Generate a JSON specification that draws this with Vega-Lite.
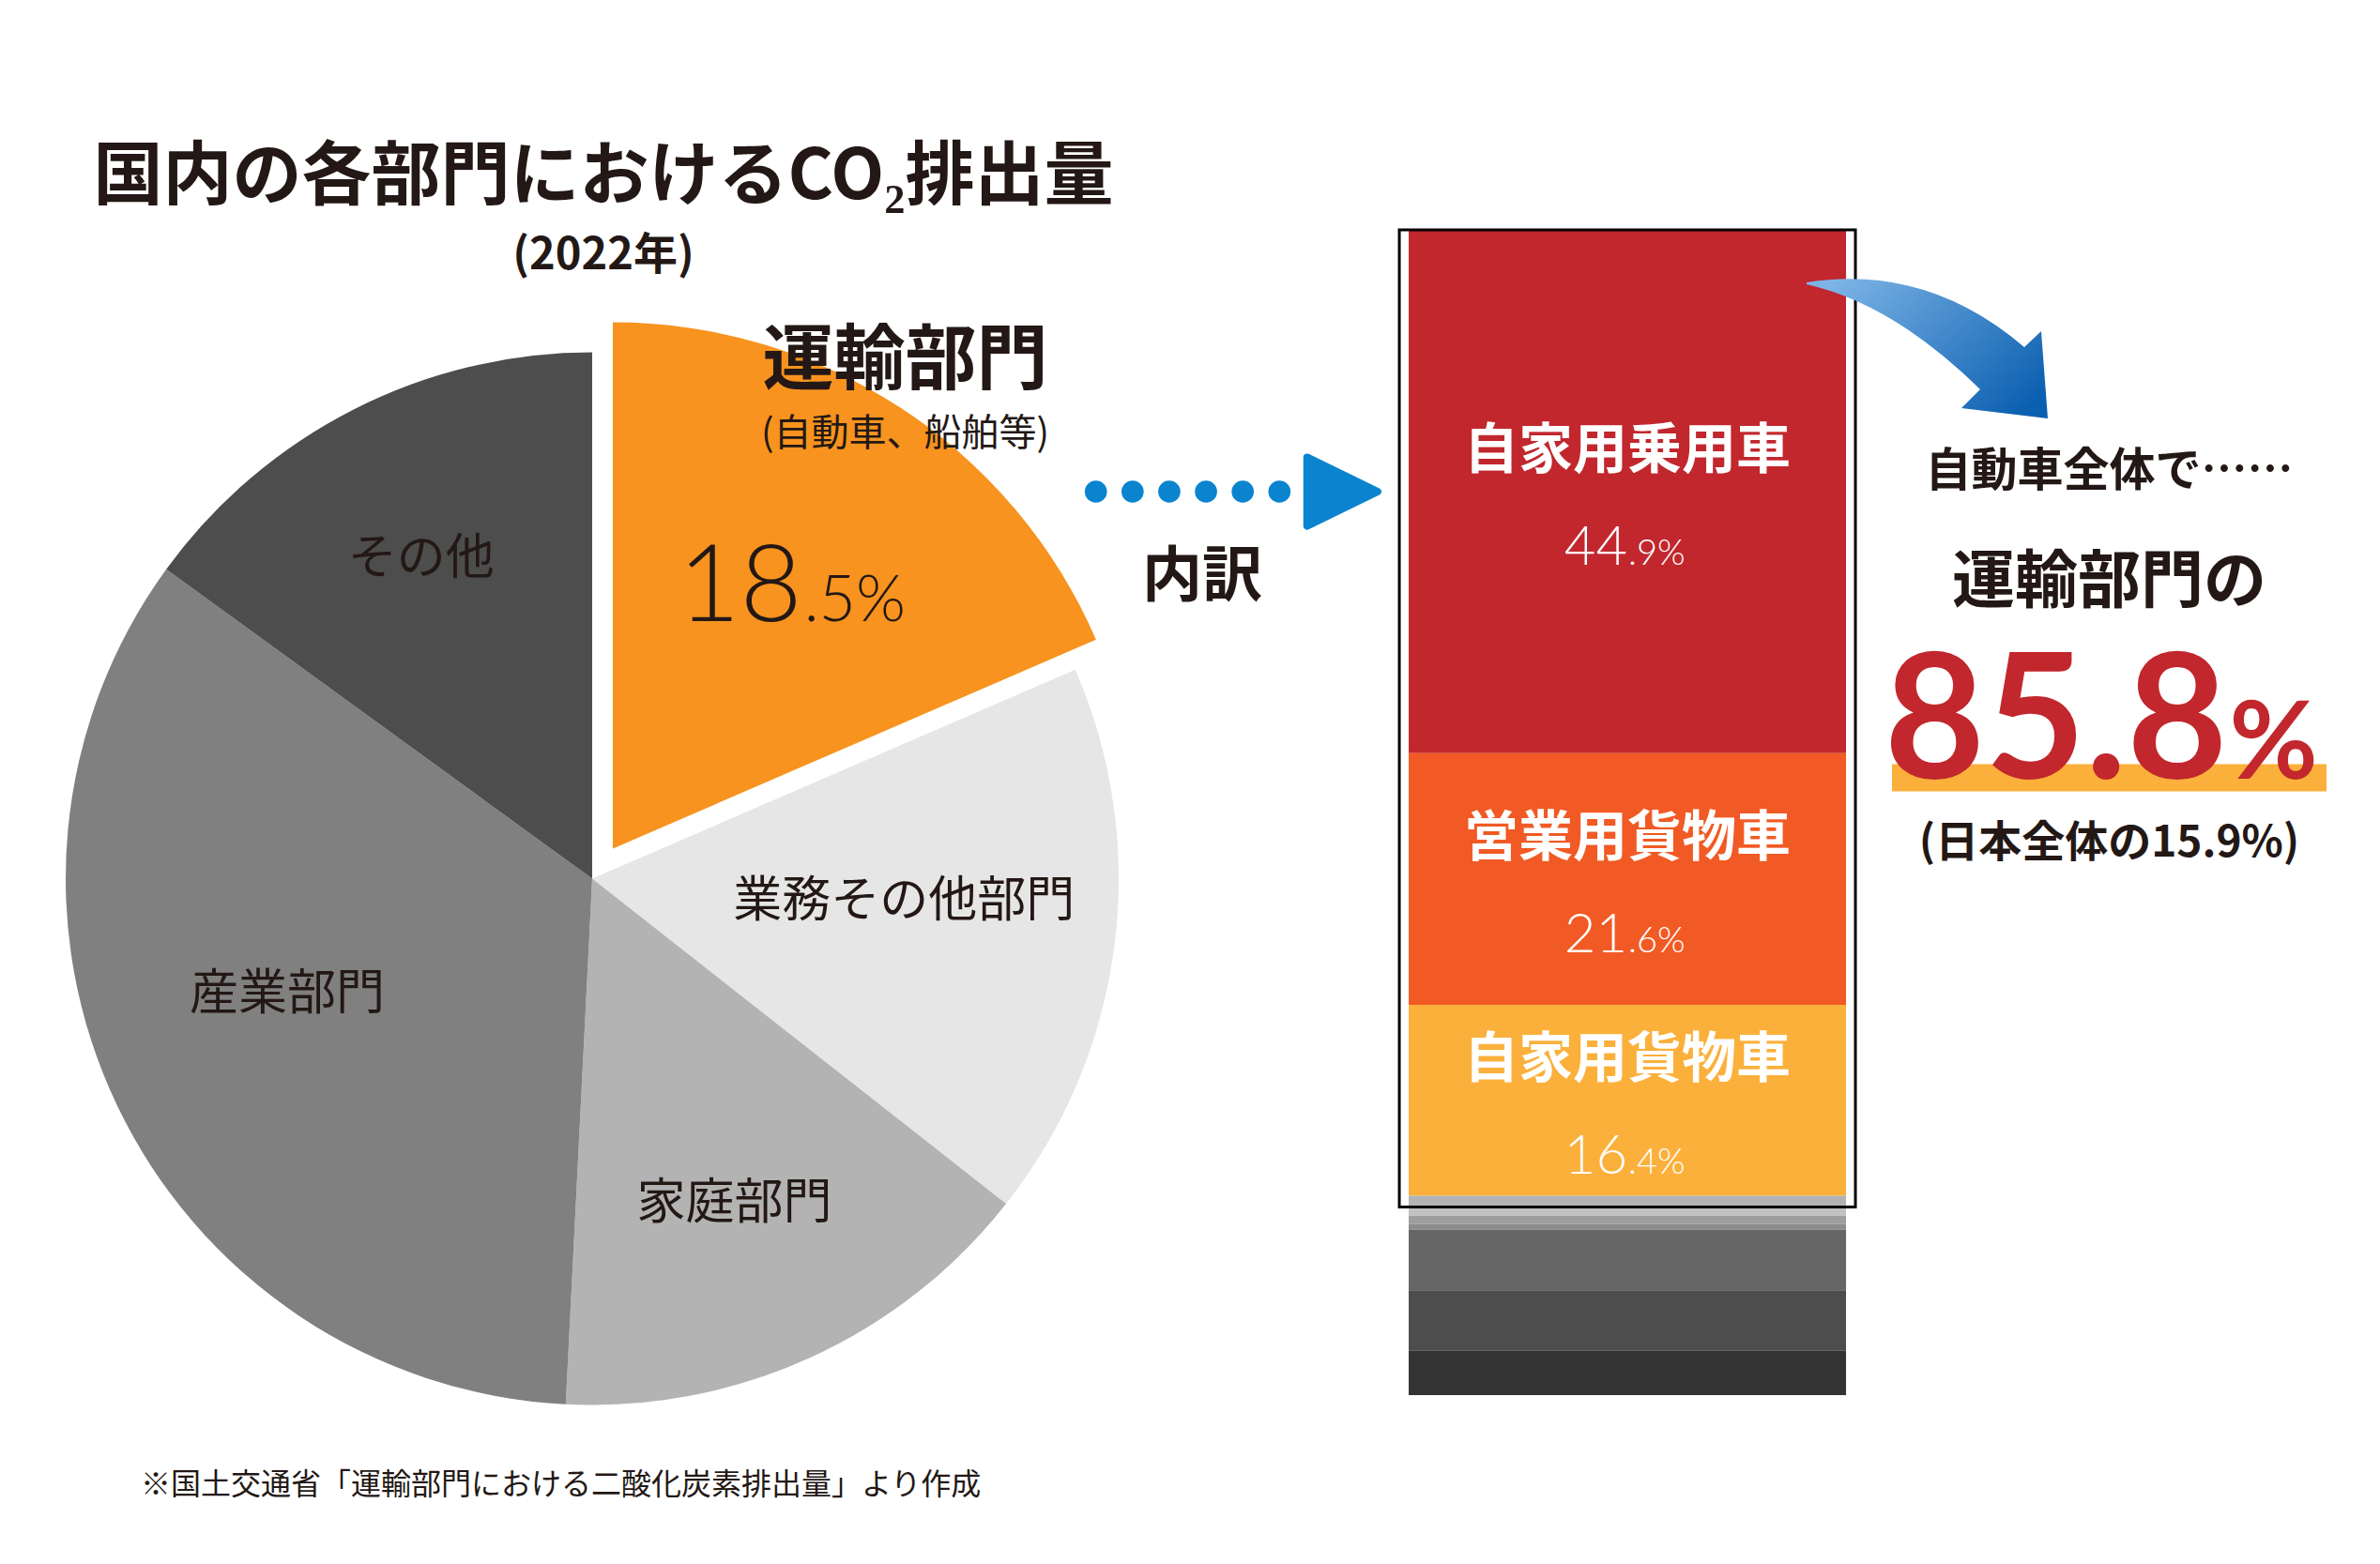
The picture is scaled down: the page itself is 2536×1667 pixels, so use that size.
{
  "$schema": "https://vega.github.io/schema/vega-lite/v6.json",
  "background": "#ffffff",
  "padding": {"left": 70, "top": 152, "right": 40, "bottom": 37},
  "config": {"view": {"stroke": null}, "font": "Noto Sans CJK JP"},
  "title": {
    "text": "国内の各部門におけるCO₂排出量",
    "subtitle": "(2022年)",
    "anchor": "start",
    "frame": "group",
    "align": "center",
    "dx": 452,
    "offset": -53,
    "font": "Noto Sans CJK JP",
    "fontSize": 74,
    "fontWeight": "bold",
    "color": "#231815",
    "subtitleFont": "Noto Sans CJK JP",
    "subtitleFontSize": 47,
    "subtitleFontWeight": "bold",
    "subtitleColor": "#231815",
    "subtitlePadding": 22
  },
  "bounds": "flush",
  "spacing": 0,
  "resolve": {"scale": {"color": "independent"}},
  "hconcat": [
    {
      "width": 880,
      "height": 1383,
      "title": {
        "text": "※国土交通省「運輸部門における二酸化炭素排出量」より作成",
        "orient": "bottom",
        "anchor": "start",
        "frame": "group",
        "dx": -41,
        "offset": -60,
        "font": "Noto Sans CJK JP",
        "fontSize": 32,
        "fontWeight": "normal",
        "color": "#231815"
      },
      "data": {"values": [
        {"sector": "運輸部門", "share": 18.5, "rank": 1, "note": "(自動車、船舶等)", "whole": "18", "frac": ".5%"},
        {"sector": "業務その他部門", "share": 17.1, "rank": 2},
        {"sector": "家庭部門", "share": 15.2, "rank": 3},
        {"sector": "産業部門", "share": 34.2, "rank": 4},
        {"sector": "その他", "share": 15.0, "rank": 5}
      ]},
      "encoding": {
        "theta": {"field": "share", "type": "quantitative", "stack": true},
        "order": {"field": "rank", "type": "quantitative"}
      },
      "layer": [
        {
          "mark": {"type": "arc", "outerRadius": 561},
          "encoding": {
            "color": {"field": "sector", "type": "nominal", "legend": null,
              "scale": {"domain": ["運輸部門", "業務その他部門", "家庭部門", "産業部門", "その他"],
                        "range": ["#F7931E", "#E6E6E6", "#B3B3B3", "#808080", "#4D4D4D"]}},
            "opacity": {"condition": {"test": "datum.sector === '運輸部門'", "value": 0}, "value": 1}
          }
        },
        {
          "mark": {"type": "arc", "outerRadius": 561, "xOffset": 22, "yOffset": -32},
          "encoding": {
            "color": {"field": "sector", "type": "nominal", "legend": null},
            "opacity": {"condition": {"test": "datum.sector === '運輸部門'", "value": 1}, "value": 0}
          }
        },
        {
          "mark": {"type": "text", "radius": 388, "fontSize": 52, "dx": -6, "dy": 5, "color": "#231815"},
          "encoding": {
            "detail": {"field": "sector", "type": "nominal"},
            "text": {"condition": {"test": "datum.sector === 'その他'", "field": "sector", "type": "nominal"}, "value": ""}
          }
        },
        {
          "mark": {"type": "text", "radius": 347, "fontSize": 52, "dx": -12, "dy": -26, "color": "#231815"},
          "encoding": {
            "detail": {"field": "sector", "type": "nominal"},
            "text": {"condition": {"test": "datum.sector === '産業部門'", "field": "sector", "type": "nominal"}, "value": ""}
          }
        },
        {
          "mark": {"type": "text", "radius": 375, "fontSize": 52, "dx": -4, "dy": 5, "color": "#231815"},
          "encoding": {
            "detail": {"field": "sector", "type": "nominal"},
            "text": {"condition": {"test": "datum.sector === '家庭部門'", "field": "sector", "type": "nominal"}, "value": ""}
          }
        },
        {
          "mark": {"type": "text", "radius": 333, "fontSize": 52, "dx": 2, "dy": -18, "color": "#231815"},
          "encoding": {
            "detail": {"field": "sector", "type": "nominal"},
            "text": {"condition": {"test": "datum.sector === '業務その他部門'", "field": "sector", "type": "nominal"}, "value": ""}
          }
        },
        {
          "mark": {"type": "text", "radius": 600, "fontSize": 76, "fontWeight": "bold", "dx": 4, "dy": -49, "color": "#231815"},
          "encoding": {
            "detail": {"field": "sector", "type": "nominal"},
            "text": {"condition": {"test": "datum.sector === '運輸部門'", "field": "sector", "type": "nominal"}, "value": ""}
          }
        },
        {
          "mark": {"type": "text", "radius": 600, "fontSize": 40, "dx": 4, "dy": 28, "color": "#231815"},
          "encoding": {
            "detail": {"field": "sector", "type": "nominal"},
            "text": {"condition": {"test": "datum.sector === '運輸部門'", "field": "note", "type": "nominal"}, "value": ""}
          }
        },
        {
          "mark": {"type": "text", "radius": 300, "font": "Lato", "fontWeight": 300, "fontSize": 114, "align": "right", "baseline": "alphabetic", "dx": 59, "dy": -24, "color": "#231815"},
          "encoding": {
            "detail": {"field": "sector", "type": "nominal"},
            "text": {"condition": {"test": "datum.sector === '運輸部門'", "field": "whole", "type": "nominal"}, "value": ""}
          }
        },
        {
          "mark": {"type": "text", "radius": 300, "font": "Lato", "fontWeight": 300, "fontSize": 68, "align": "left", "baseline": "alphabetic", "dx": 61, "dy": -24, "color": "#231815"},
          "encoding": {
            "detail": {"field": "sector", "type": "nominal"},
            "text": {"condition": {"test": "datum.sector === '運輸部門'", "field": "frac", "type": "nominal"}, "value": ""}
          }
        }
      ]
    },
    {
      "width": 420,
      "height": 558,
      "data": {"values": [
        {"step": 1, "kind": "dot"},
        {"step": 2, "kind": "dot"},
        {"step": 3, "kind": "dot"},
        {"step": 4, "kind": "dot"},
        {"step": 5, "kind": "dot"},
        {"step": 6, "kind": "dot"},
        {"step": 7, "kind": "head"},
        {"kind": "label", "label": "内訳"}
      ]},
      "layer": [
        {
          "transform": [{"filter": "datum.kind === 'dot'"}],
          "mark": {"type": "point", "shape": "circle", "filled": true, "size": 560, "color": "#0B84D0", "opacity": 1},
          "encoding": {
            "x": {"field": "step", "type": "quantitative", "axis": null,
                  "scale": {"domain": [-1.472, 9.264], "nice": false, "zero": false}}
          }
        },
        {
          "transform": [{"filter": "datum.kind === 'head'"}],
          "mark": {"type": "point", "shape": "M -0.9 -0.85 L 0.85 0 L -0.9 0.85 Z", "filled": true, "size": 7396,
                   "color": "#0B84D0", "stroke": "#0B84D0", "strokeWidth": 8, "strokeJoin": "round", "opacity": 1, "xOffset": 29},
          "encoding": {"x": {"field": "step", "type": "quantitative"}}
        },
        {
          "transform": [{"filter": "datum.kind === 'label'"}],
          "mark": {"type": "text", "fontSize": 64, "fontWeight": "bold", "dy": 92, "color": "#231815"},
          "encoding": {"text": {"field": "label", "type": "nominal"}}
        }
      ]
    },
    {
      "width": 525,
      "height": 1242,
      "data": {"values": [
        {"group": "運輸部門", "mode": "自家用乗用車", "share": 44.9, "rank": 1, "whole": "44", "frac": ".9%"},
        {"group": "運輸部門", "mode": "営業用貨物車", "share": 21.6, "rank": 2, "whole": "21", "frac": ".6%"},
        {"group": "運輸部門", "mode": "自家用貨物車", "share": 16.4, "rank": 3, "whole": "16", "frac": ".4%"},
        {"group": "運輸部門", "mode": "バス", "share": 1.0, "rank": 4},
        {"group": "運輸部門", "mode": "タクシー", "share": 0.7, "rank": 5},
        {"group": "運輸部門", "mode": "二輪車", "share": 0.7, "rank": 6},
        {"group": "運輸部門", "mode": "その他自動車", "share": 0.5, "rank": 7},
        {"group": "運輸部門", "mode": "内航海運", "share": 5.2, "rank": 8},
        {"group": "運輸部門", "mode": "航空", "share": 5.2, "rank": 9},
        {"group": "運輸部門", "mode": "鉄道", "share": 3.8, "rank": 10}
      ]},
      "encoding": {
        "x": {"field": "group", "type": "nominal", "axis": null,
              "scale": {"paddingInner": 0, "paddingOuter": 0.0633, "align": 0.17}}
      },
      "layer": [
        {
          "mark": {"type": "bar"},
          "encoding": {
            "y": {"field": "share", "type": "quantitative", "stack": "zero", "axis": null,
                  "scale": {"domain": [0, 100], "reverse": true, "nice": false}},
            "order": {"field": "rank", "type": "quantitative"},
            "color": {"field": "mode", "type": "nominal", "legend": null,
              "scale": {"domain": ["自家用乗用車", "営業用貨物車", "自家用貨物車", "バス", "タクシー", "二輪車", "その他自動車", "内航海運", "航空", "鉄道"],
                        "range": ["#C1272D", "#F15A24", "#FBB03B", "#B3B3B3", "#C2C2C2", "#9E9E9E", "#8C8C8C", "#666666", "#4D4D4D", "#333333"]}}
          }
        },
        {
          "transform": [{"filter": "datum.rank <= 3"}],
          "mark": {"type": "bar", "fill": "transparent", "stroke": "#000000", "strokeWidth": 3, "yOffset": 12, "y2Offset": -11, "width": {"band": 1.0429}},
          "encoding": {
            "y": {"aggregate": "sum", "field": "share", "type": "quantitative", "stack": null}
          }
        },
        {
          "transform": [{"filter": "datum.rank <= 3"}],
          "mark": {"type": "text", "fontSize": 58, "fontWeight": "bold", "color": "#ffffff", "dy": -42},
          "encoding": {
            "y": {"field": "share", "type": "quantitative", "stack": "zero", "bandPosition": 0.5},
            "order": {"field": "rank", "type": "quantitative"},
            "detail": {"field": "mode", "type": "nominal"},
            "text": {"field": "mode", "type": "nominal"}
          }
        },
        {
          "transform": [{"filter": "datum.rank <= 3"}],
          "mark": {"type": "text", "font": "Lato", "fontWeight": 300, "fontSize": 58, "align": "right", "baseline": "alphabetic", "color": "#ffffff", "dy": 78},
          "encoding": {
            "y": {"field": "share", "type": "quantitative", "stack": "zero", "bandPosition": 0.5},
            "order": {"field": "rank", "type": "quantitative"},
            "detail": {"field": "mode", "type": "nominal"},
            "text": {"field": "whole", "type": "nominal"}
          }
        },
        {
          "transform": [{"filter": "datum.rank <= 3"}],
          "mark": {"type": "text", "font": "Lato", "fontWeight": 300, "fontSize": 38, "align": "left", "baseline": "alphabetic", "color": "#ffffff", "dy": 78, "dx": 1},
          "encoding": {
            "y": {"field": "share", "type": "quantitative", "stack": "zero", "bandPosition": 0.5},
            "order": {"field": "rank", "type": "quantitative"},
            "detail": {"field": "mode", "type": "nominal"},
            "text": {"field": "frac", "type": "nominal"}
          }
        }
      ]
    },
    {
      "width": 463,
      "height": 780,
      "data": {"values": [
        {"line": "arrow"},
        {"line": "a", "text": "自動車全体で……"},
        {"line": "b", "text": "運輸部門の"},
        {"line": "c", "whole": "85.8", "frac": "%"},
        {"line": "d", "text": "(日本全体の15.9%)"}
      ]},
      "encoding": {
        "y": {"field": "line", "type": "ordinal", "axis": null,
              "scale": {"type": "point", "domain": ["arrow", "a", "b", "c", "d"], "padding": 0.955}}
      },
      "layer": [
        {
          "transform": [{"filter": "datum.line === 'arrow'"}],
          "mark": {
            "type": "point",
            "shape": "M -3.225 -0.70 Q -1.94 -0.90 -0.905 -0.01 L -0.725 -0.18 L -0.655 0.75 L -1.575 0.64 L -1.375 0.44 Q -2.3 -0.47 -3.225 -0.68 Z",
            "size": 40000,
            "filled": true,
            "opacity": 1,
            "strokeWidth": 0,
            "fill": {"gradient": "linear", "x1": 0, "y1": 0.2, "x2": 1, "y2": 0.8,
                     "stops": [{"offset": 0, "color": "#7DB4E6"}, {"offset": 1, "color": "#0B5FB0"}]}
          }
        },
        {
          "transform": [{"filter": "datum.line === 'c'"}],
          "mark": {"type": "rule", "color": "#FBB03B", "strokeWidth": 29, "yOffset": 62}
        },
        {
          "transform": [{"filter": "datum.line === 'a'"}],
          "mark": {"type": "text", "fontSize": 49, "fontWeight": "bold", "color": "#231815"},
          "encoding": {"text": {"field": "text", "type": "nominal"}}
        },
        {
          "transform": [{"filter": "datum.line === 'b'"}],
          "mark": {"type": "text", "fontSize": 67, "fontWeight": "bold", "color": "#231815", "dy": -13},
          "encoding": {"text": {"field": "text", "type": "nominal"}}
        },
        {
          "transform": [{"filter": "datum.line === 'c'"}],
          "mark": {"type": "text", "font": "Lato", "fontSize": 185, "fontWeight": "bold", "color": "#C1272D", "align": "right", "baseline": "alphabetic", "dx": 126, "dy": 63},
          "encoding": {"text": {"field": "whole", "type": "nominal"}}
        },
        {
          "transform": [{"filter": "datum.line === 'c'"}],
          "mark": {"type": "text", "font": "Lato", "fontSize": 115, "fontWeight": "bold", "color": "#C1272D", "align": "left", "baseline": "alphabetic", "dx": 128, "dy": 63},
          "encoding": {"text": {"field": "frac", "type": "nominal"}}
        },
        {
          "transform": [{"filter": "datum.line === 'd'"}],
          "mark": {"type": "text", "fontSize": 46, "fontWeight": "bold", "color": "#231815", "dy": 0},
          "encoding": {"text": {"field": "text", "type": "nominal"}}
        }
      ]
    }
  ]
}
